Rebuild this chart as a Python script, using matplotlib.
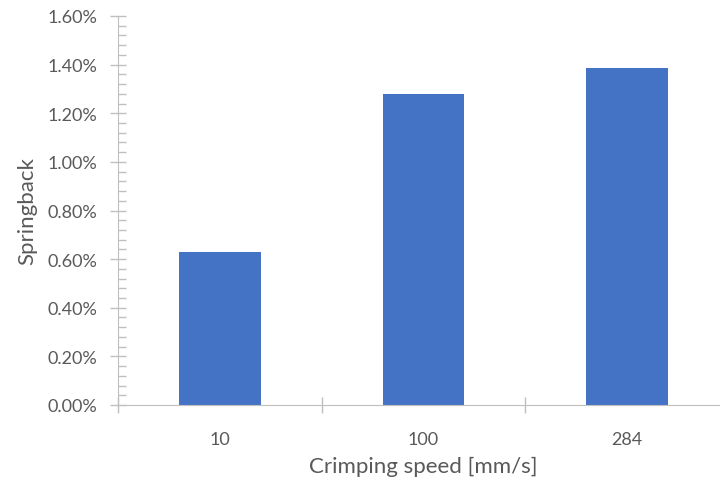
import numpy as np
import matplotlib.pyplot as plt
from matplotlib.ticker import MultipleLocator, PercentFormatter

# Springback vs. Crimping speed
speeds = ['10', '100', '284']
springback = [0.63, 1.28, 1.385]  # in %

plt.rcParams['font.family'] = ['Lato', 'DejaVu Sans']
grau = '#595959'
achse = '#bfbfbf'

fig = plt.figure(figsize=(7.2, 4.81), dpi=100)
ax = fig.add_axes([118 / 720, 1 - 406 / 481, 611 / 720, 389 / 481])

x = np.arange(len(speeds))
ax.bar(x, springback, width=0.4, color='#4472c4')

ax.set_xlim(-0.5, len(speeds) - 0.5)
ax.set_ylim(0, 1.6)
ax.yaxis.set_major_locator(MultipleLocator(0.2))
ax.yaxis.set_minor_locator(MultipleLocator(0.04))
ax.yaxis.set_major_formatter(PercentFormatter(decimals=2))

ax.set_xticks(x, speeds)
ax.set_xticks(np.arange(len(speeds) + 1) - 0.5, minor=True)
ax.tick_params(axis='x', which='major', length=0, pad=19, labelsize=13, labelcolor=grau)
ax.tick_params(axis='x', which='minor', direction='inout', length=12, color=achse, width=1)
ax.tick_params(axis='y', which='major', direction='inout', length=12, color=achse,
               width=1, labelsize=13, labelcolor=grau, pad=9)
ax.tick_params(axis='y', which='minor', direction='in', length=6, color=achse, width=1)

for s in ['top', 'right']:
    ax.spines[s].set_visible(False)
for s in ['left', 'bottom']:
    ax.spines[s].set_color(achse)

ax.set_xlabel('Crimping speed [mm/s]', fontsize=16, color=grau, labelpad=6)
ax.set_ylabel('Springback', fontsize=16, color=grau, labelpad=7)

fig.savefig('out.png', dpi=100)
